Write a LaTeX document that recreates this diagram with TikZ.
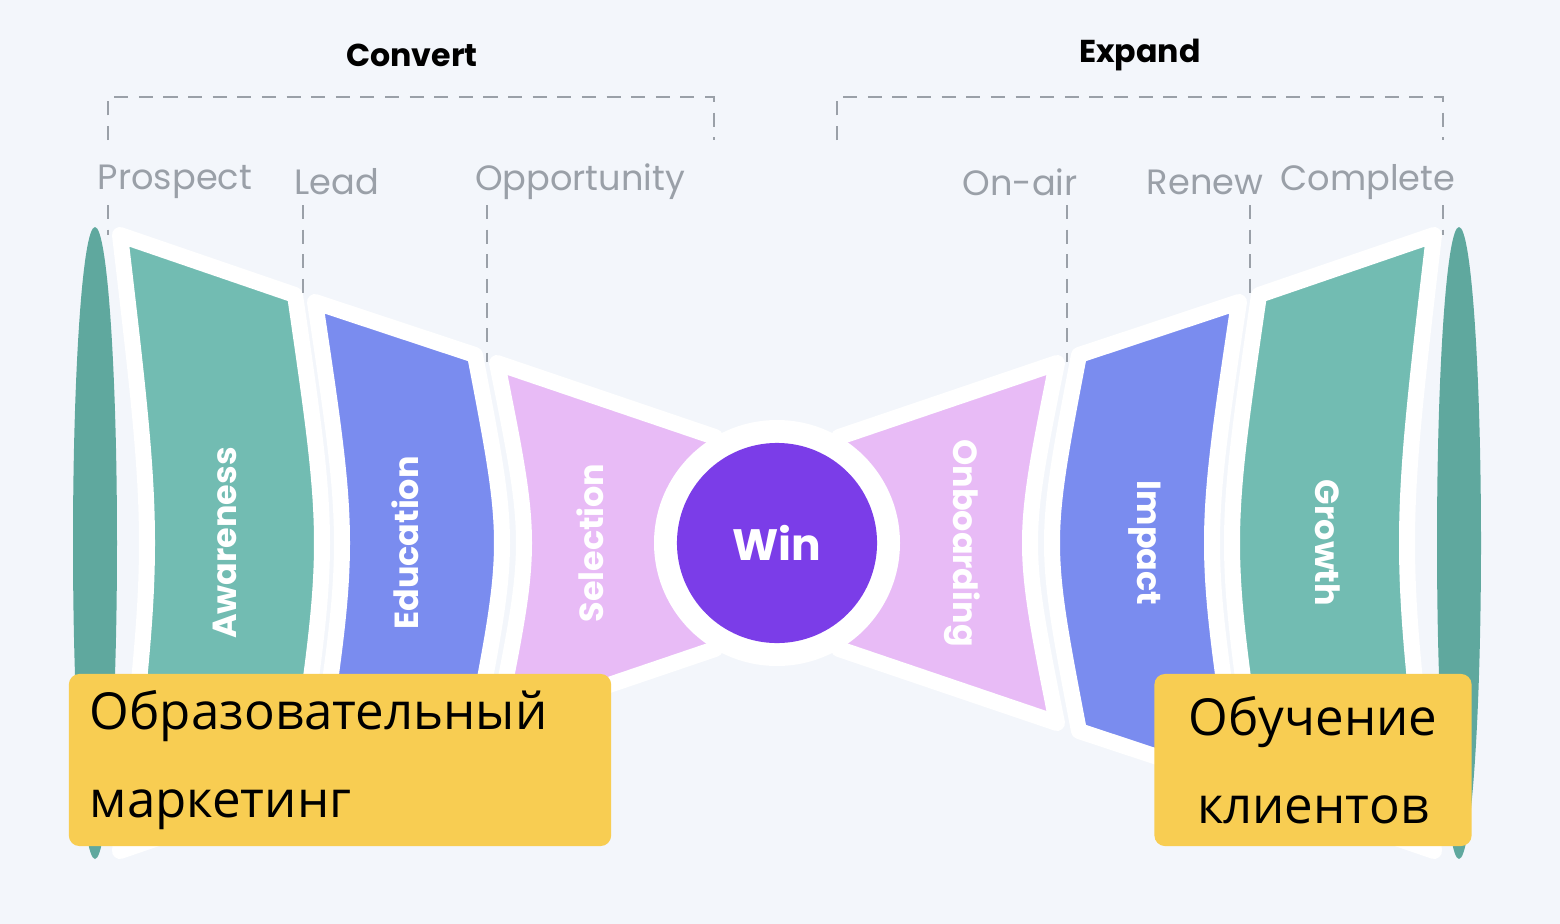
\documentclass[tikz,border=0pt]{standalone}
\usepackage{fontspec}
\setmainfont{Open Sans}
\newfontfamily\labelfont{Poppins}
\usetikzlibrary{positioning}
\definecolor{bgcol}{HTML}{F3F6FB}
\definecolor{tealdark}{HTML}{5FA89E}
\definecolor{tealcol}{HTML}{72BCB2}
\definecolor{bluecol}{HTML}{7A8CEF}
\definecolor{pinkcol}{HTML}{E8BBF6}
\definecolor{wincol}{HTML}{7B3DE8}
\definecolor{yellowcol}{HTML}{F8CD52}
\definecolor{graycol}{HTML}{9AA0A8}
\tikzset{
  stage/.style={font=\labelfont\fontsize{10}{12}\selectfont,text=graycol,inner sep=0pt},
  group/.style={font=\labelfont\bfseries\fontsize{9}{11}\selectfont,inner sep=0pt},
  seglabel/.style={font=\labelfont\bfseries\fontsize{9.5}{11}\selectfont,text=white,inner sep=0pt},
  guide/.style={draw=graycol,dashed,dash pattern=on 4pt off 3pt,line width=0.5pt},
  segment/.style={draw=white,line width=0.16cm,line join=round},
  notebox/.style={fill=yellowcol,rounded corners=3pt,inner sep=0pt,align=left,
    font=\fontsize{14.5}{25}\selectfont},
}
\begin{document}
\begin{tikzpicture}[x=0.01cm,y=-0.01cm]

\fill[bgcol] (0,0) rectangle (1560,924);
\useasboundingbox (0,0) rectangle (1560,924);

\def\b{18}

% outer rims
\fill[tealdark] (95,543) ellipse[x radius=22,y radius=316];
\fill[tealdark] (1459,543) ellipse[x radius=22,y radius=316];

% left funnel
\foreach \xa/\ta/\xb/\tb/\col in {120/235/295/295/tealcol,315/302/475/355/bluecol,497/363/715/437/pinkcol}{
  \filldraw[segment,fill=\col] (\xa,\ta) -- (\xb,\tb)
    .. controls ({\xb+2*\b},543) .. (\xb,{1086-\tb}) -- (\xa,{1086-\ta})
    .. controls ({\xa+2*\b},543) .. cycle;
}
% right funnel
\foreach \xa/\ta/\xb/\tb/\col in {1434/235/1259/295/tealcol,1239/302/1079/355/bluecol,1057/363/839/437/pinkcol}{
  \filldraw[segment,fill=\col] (\xa,\ta) -- (\xb,\tb)
    .. controls ({\xb-2*\b},543) .. (\xb,{1086-\tb}) -- (\xa,{1086-\ta})
    .. controls ({\xa-2*\b},543) .. cycle;
}

% center
\fill[white] (777,543) circle[radius=123];
\node[circle,fill=wincol,minimum size=2cm,inner sep=0pt,text=white,
  font=\labelfont\bfseries\fontsize{12.5}{14}\selectfont] (win) at (777,543) {Win};

\node[seglabel,rotate=90] (awareness) at (225,543) {Awareness};
\node[seglabel,rotate=90] (education) at (405,543) {Education};
\node[seglabel,rotate=90] (selection) at (590,543) {Selection};
\node[seglabel,rotate=-90] (onboarding) at (962,543) {Onboarding};
\node[seglabel,rotate=-90] (impact) at (1145,543) {Impact};
\node[seglabel,rotate=-90] (growth) at (1328,543) {Growth};

% groups
\node[group] (convert) at (412,55) {Convert};
\node[group] (expand) at (1140,55) {Expand};
\draw[guide] (108,140) -- (108,97) -- (714,97) -- (714,140);
\draw[guide] (837,140) -- (837,97) -- (1443,97) -- (1443,140);

% stages
\node[stage] (prospect) at (175,182) {Prospect};
\node[stage] (lead) at (337,182) {Lead};
\node[stage] (opportunity) at (580,182) {Opportunity};
\node[stage] (onair) at (1020,182) {On-air};
\node[stage] (renew) at (1205,182) {Renew};
\node[stage] (complete) at (1368,182) {Complete};

\foreach \x/\y in {108/235,303/295,487/362,1067/362,1250/295,1443/235}{
  \draw[guide] (\x,205) -- (\x,\y);
}

% notes
\node[notebox,minimum width=5.42cm,minimum height=1.72cm,text width=5.0cm] (leftnote)
  at (340,760) {Образовательный\\маркетинг};
\node[notebox,minimum width=3.17cm,minimum height=1.72cm,text width=2.9cm,align=center] (rightnote)
  at (1313,760) {Обучение\\клиентов};

\end{tikzpicture}
\end{document}
